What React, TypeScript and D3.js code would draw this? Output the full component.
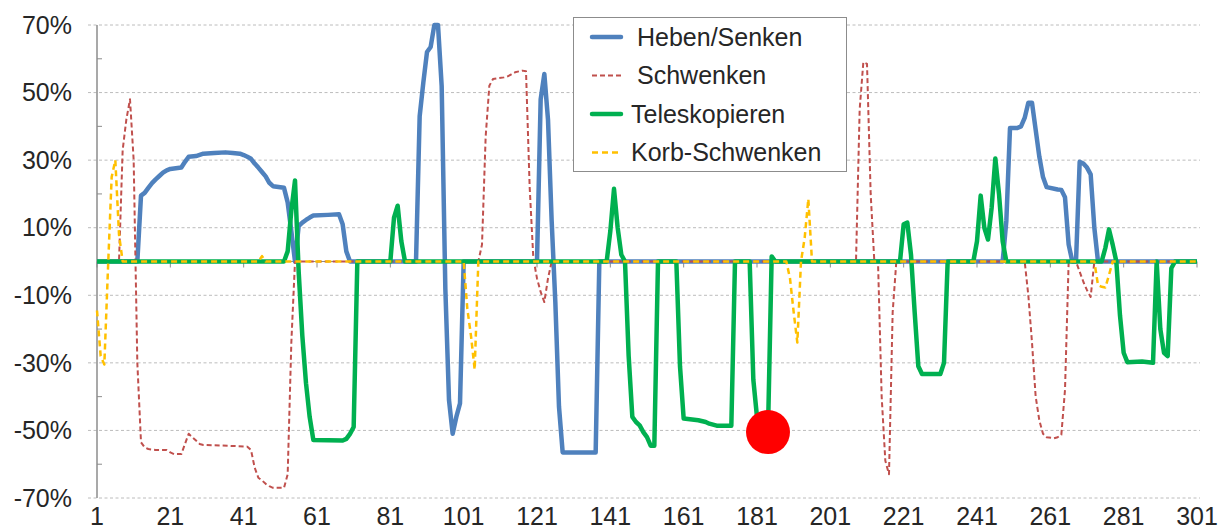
import React, { useEffect, useRef } from "react";
import * as d3 from "d3";

type Pt = [number, number];

const xTickValues = [1, 21, 41, 61, 81, 101, 121, 141, 161, 181, 201, 221, 241, 261, 281, 301];
const yTickValues = [-70, -50, -30, -10, 10, 30, 50, 70];
const yMinorValues = [-60, -40, -20, 20, 40, 60];

// [sample index, percent]
const hebenSenken: Pt[] = [
  [1, 0], [12, 0], [13, 19.5], [14, 20.3], [15, 21.8], [16, 23.2], [17, 24.3], [18, 25.3], [19, 26.3],
  [20, 27], [21, 27.4], [24, 27.8], [25, 29.5], [26, 31], [28, 31.2], [30, 31.9], [33, 32.1], [36, 32.3],
  [38, 32.1], [40, 31.9], [41, 31.5], [42, 31], [43, 30.4], [44, 29], [45, 27.8], [46, 26.5], [47, 25.2],
  [48, 23.3], [49, 22.3], [52, 21.8], [53, 17.5], [54, 9], [55, 0], [56, 10.5], [57, 11.5], [58, 12.3],
  [59, 13], [60, 13.6], [64, 13.8], [67, 14], [68, 11], [69, 3], [70, 0], [88, 0], [89, 43], [90, 53],
  [91, 62], [92, 63.5], [93, 70], [94, 70], [95, 52], [96, -8], [97, -41], [98, -51], [99, -46],
  [100, -42], [101, 0], [121, 0], [122, 48], [123, 55.5], [124, 42], [125, 12], [126, -12], [127, -43],
  [128, -56.5], [137, -56.5], [138, 0], [248, 0], [249, 12], [250, 39.5], [252, 39.5], [253, 40],
  [254, 42.5], [255, 47], [256, 47], [257, 39], [258, 31], [259, 25], [260, 22], [263, 21.3], [264, 21.2],
  [265, 19], [266, 5], [267, 0], [268, 0], [269, 29.5], [270, 29], [271, 27.8], [272, 25.8], [273, 10],
  [274, 0], [301, 0],
];

const schwenken: Pt[] = [
  [1, 0], [7, 0], [8, 33], [9, 42], [10, 48], [11, 30], [12, -30], [13, -53.5], [14, -55], [15, -55.5],
  [17, -55.8], [20, -55.8], [21, -56.5], [22, -57], [24, -57], [25, -54], [26, -51], [27, -52], [28, -53],
  [29, -54], [30, -54.3], [38, -54.6], [42, -54.8], [43, -55.8], [44, -61], [45, -64], [46, -64.8],
  [47, -65.8], [48, -66.5], [49, -67], [52, -67], [53, -63], [54, -24], [55, 0], [105, 0], [106, 5],
  [107, 37], [108, 52], [109, 54], [112, 54.5], [113, 54.8], [114, 55.4], [115, 56], [117, 56.5],
  [118, 56.3], [119, 22], [120, 1], [121, -5], [122, -9], [123, -12], [124, -5], [125, 0], [208, 0],
  [209, 45], [210, 59], [211, 58.5], [212, 20], [213, 0], [214, 0], [215, -40], [216, -59], [217, -63],
  [218, -15], [219, 0], [254, 0], [255, -10], [256, -24], [257, -40], [258, -47], [259, -51], [260, -52],
  [262, -52.3], [263, -52], [264, -51.3], [265, -38], [266, 0], [268, 0], [269, -3], [270, -6],
  [271, -8.5], [272, -10.5], [273, 0], [301, 0],
];

const teleskopieren: Pt[] = [
  [1, 0], [52, 0], [53, 3], [54, 15], [55, 24], [56, -3], [57, -22], [58, -36], [59, -46], [60, -52.8],
  [68, -53], [69, -52.5], [70, -51], [71, -49], [72, 0], [81, 0], [82, 13], [83, 16.5], [84, 6], [85, 0],
  [140, 0], [141, 9], [142, 21.5], [143, 10], [144, 2], [145, 0], [146, -28], [147, -46], [148, -47.5],
  [149, -48.5], [150, -50.5], [151, -52], [152, -54.5], [153, -54.5], [154, 0], [159, 0], [160, -31],
  [161, -46.5], [165, -47], [167, -47.5], [168, -48], [170, -48.6], [174, -48.6], [175, 0], [179, 0],
  [180, -35], [181, -46], [182, -48.5], [183, -50], [184, -50], [185, 1.5], [186, 0], [220, 0], [221, 11],
  [222, 11.5], [223, 2], [224, -15], [225, -31], [226, -33.3], [231, -33.3], [232, -30], [233, 0],
  [240, 0], [241, 6], [242, 19.5], [243, 10], [244, 6.5], [245, 16], [246, 30.5], [247, 20], [248, 6],
  [249, 0], [275, 0], [276, 4], [277, 9.5], [278, 5], [279, 0], [280, -16], [281, -27], [282, -29.8],
  [286, -29.6], [289, -30], [290, 0], [291, -20], [292, -27], [293, -28], [294, -2], [295, 0], [301, 0],
];

const korbSchwenken: Pt[] = [
  [1, -14.5], [2, -28], [3, -30.5], [4, -2], [5, 25], [6, 30], [7, 8], [8, 0], [45, 0], [46, 1.6],
  [47, 0], [101, 0], [102, -14], [103, -22], [104, -32], [105, 0], [189, 0], [190, -5], [191, -15],
  [192, -24], [193, 0], [194, 7], [195, 18.5], [196, 0], [273, 0], [274, -7], [275, -7.5], [276, -7.7],
  [277, -4], [278, 0], [301, 0],
];

const highlight: Pt = [184, -50.5];

const seriesList = [
  { name: "Heben/Senken", data: hebenSenken, color: "#4F81BD", width: 4.5, dash: null },
  { name: "Schwenken", data: schwenken, color: "#C0504D", width: 2, dash: "5,3" },
  { name: "Teleskopieren", data: teleskopieren, color: "#00B050", width: 4.5, dash: null },
  { name: "Korb-Schwenken", data: korbSchwenken, color: "#FFC000", width: 2.5, dash: "6,4" },
];

const W = 1224;
const H = 531;
const FONT = "'Liberation Sans', Arial, sans-serif";

const App = () => {
  const svgRef = useRef<SVGSVGElement>(null);

  useEffect(() => {
    const svg = d3.select(svgRef.current);
    svg.selectAll("*").remove();

    const x = d3.scaleLinear().domain([1, 301]).range([97, 1197]);
    const y = d3.scaleLinear().domain([-70, 70]).range([498, 25]);

    svg.append("rect").attr("width", W).attr("height", H).attr("fill", "#fff");

    // gridlines
    svg
      .append("g")
      .selectAll("line")
      .data(yTickValues)
      .join("line")
      .attr("x1", 88)
      .attr("x2", 1200)
      .attr("y1", (d) => y(d))
      .attr("y2", (d) => y(d))
      .attr("stroke", "#bcbcbc")
      .attr("stroke-width", 1)
      .attr("stroke-dasharray", "3,2.5");

    // y axis
    const axis = svg.append("g").attr("stroke", "#8c8c8c");
    axis
      .append("line")
      .attr("x1", 97)
      .attr("x2", 97)
      .attr("y1", y(70))
      .attr("y2", y(-70))
      .attr("stroke-width", 1.5);
    axis
      .selectAll("line.minor")
      .data(yMinorValues)
      .join("line")
      .attr("class", "minor")
      .attr("x1", 97)
      .attr("x2", 102)
      .attr("y1", (d) => y(d))
      .attr("y2", (d) => y(d));

    // x axis sits on 0
    axis
      .append("line")
      .attr("x1", x(1))
      .attr("x2", x(301))
      .attr("y1", y(0))
      .attr("y2", y(0));
    axis
      .selectAll("line.xt")
      .data(xTickValues)
      .join("line")
      .attr("class", "xt")
      .attr("x1", (d) => x(d))
      .attr("x2", (d) => x(d))
      .attr("y1", y(0))
      .attr("y2", y(0) + 6);

    // tick labels
    svg
      .append("g")
      .selectAll("text")
      .data(yTickValues)
      .join("text")
      .attr("x", 72)
      .attr("y", (d) => y(d))
      .attr("dy", "0.35em")
      .attr("text-anchor", "end")
      .attr("font-family", FONT)
      .attr("font-size", 25)
      .attr("fill", "#262626")
      .text((d) => `${d}%`);

    svg
      .append("g")
      .selectAll("text")
      .data(xTickValues)
      .join("text")
      .attr("x", (d) => x(d))
      .attr("y", 525)
      .attr("text-anchor", "middle")
      .attr("font-family", FONT)
      .attr("font-size", 25)
      .attr("fill", "#262626")
      .text((d) => d);

    // series
    const line = d3
      .line<Pt>()
      .x((d) => x(d[0]))
      .y((d) => y(d[1]));

    seriesList.forEach((s) => {
      const p = svg
        .append("path")
        .attr("d", line(s.data))
        .attr("fill", "none")
        .attr("stroke", s.color)
        .attr("stroke-width", s.width)
        .attr("stroke-linejoin", "round");
      if (s.dash) p.attr("stroke-dasharray", s.dash);
    });

    svg
      .append("circle")
      .attr("cx", x(highlight[0]))
      .attr("cy", y(highlight[1]))
      .attr("r", 22)
      .attr("fill", "#FF0000");

    // legend
    const lg = svg.append("g");
    lg.append("rect")
      .attr("x", 573.5)
      .attr("y", 17.5)
      .attr("width", 273)
      .attr("height", 154)
      .attr("fill", "#fff")
      .attr("stroke", "#8c8c8c")
      .attr("stroke-width", 1);

    const textX = [637, 637, 631, 631];
    seriesList.forEach((s, i) => {
      const cy = 37 + i * 38.5;
      const l = lg
        .append("line")
        .attr("x1", 592)
        .attr("x2", 621)
        .attr("y1", cy)
        .attr("y2", cy)
        .attr("stroke", s.color)
        .attr("stroke-width", s.width)
        .attr("stroke-linecap", s.dash ? "butt" : "round");
      if (s.dash) l.attr("stroke-dasharray", s.dash);
      lg.append("text")
        .attr("x", textX[i])
        .attr("y", cy)
        .attr("dy", "0.35em")
        .attr("font-family", FONT)
        .attr("font-size", 25)
        .attr("fill", "#262626")
        .text(s.name);
    });
  }, []);

  return (
    <svg
      ref={svgRef}
      width={W}
      height={H}
      style={{ position: "absolute", left: 0, top: 0 }}
    ></svg>
  );
};

export default App;
